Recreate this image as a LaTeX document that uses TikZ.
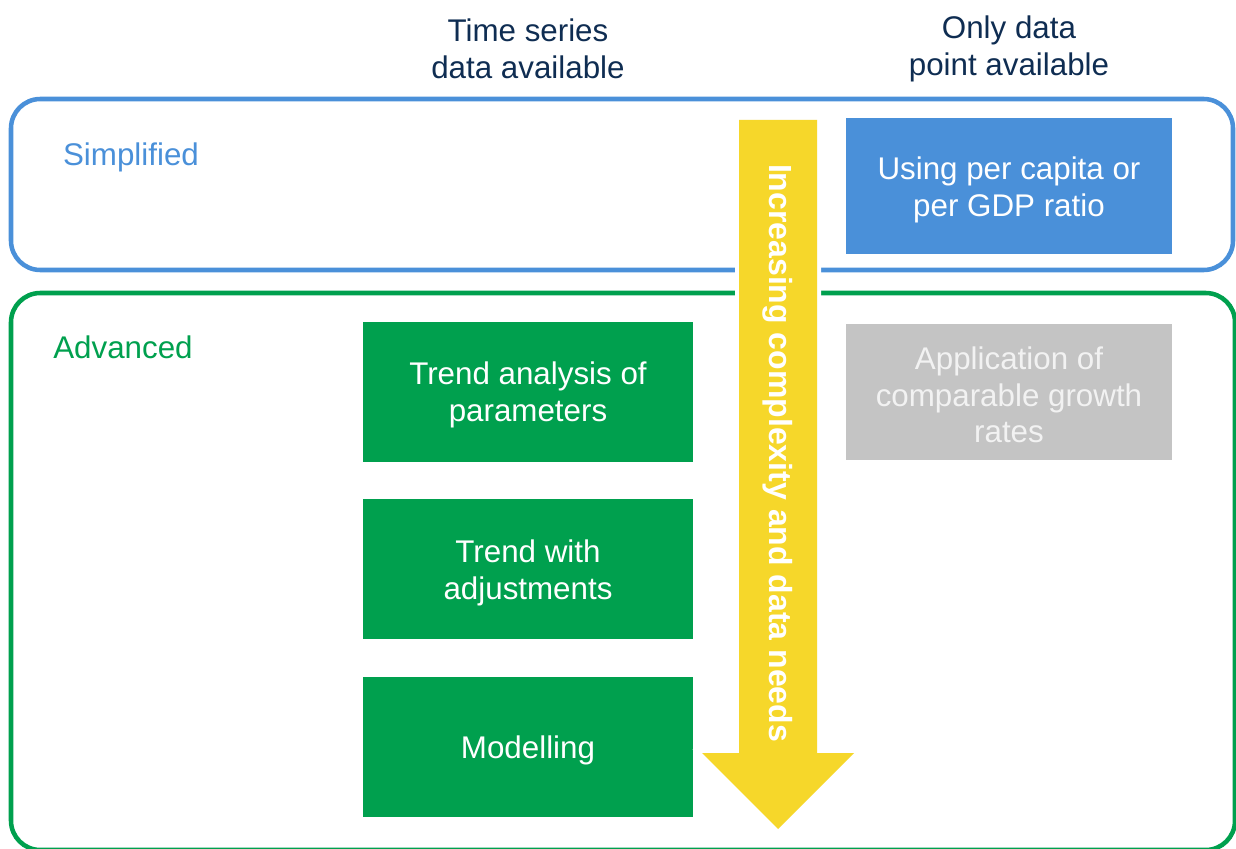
\documentclass[tikz,border=0pt]{standalone}
\usepackage{fontspec}
\setmainfont{Liberation Sans}
\usepackage{tikz}
\usetikzlibrary{calc}

\definecolor{framblue}{RGB}{74,144,217}
\definecolor{framgreen}{RGB}{0,160,78}
\definecolor{boxgray}{RGB}{196,196,196}
\definecolor{arrowyellow}{RGB}{246,215,42}
\definecolor{headnavy}{RGB}{15,45,82}

\begin{document}
\begin{tikzpicture}[x=0.75pt, y=-0.75pt,
	boxtext/.style={font=\fontsize{23.5}{27.5}\selectfont, align=center, text=white},
	headtext/.style={font=\fontsize{23.5}{27.5}\selectfont, align=center, text=headnavy},
	methodbox/.style={boxtext, minimum width=247.5pt, minimum height=105pt, inner sep=0pt}]
	\useasboundingbox (0,0) rectangle (1236,849);

	% frames
	\draw [framblue, line width=3.4pt, rounded corners=22pt] (11,99) rectangle (1233,270);
	\draw [framgreen, line width=3.4pt, rounded corners=22pt] (11,293) rectangle (1235,850);
	\node (simp) at (131,157) [headtext, text=framblue] {Simplified};
	\node (adv) at (123,347) [headtext, text=framgreen] {Advanced};

	% column heads
	\node (tsdata) at (528,49) [headtext] {Time series\\data available};
	\node (ptdata) at (1009,49) [headtext] {Only data\\point available};

	% methods
	\node (ratio) at (1009,186) [methodbox, fill=framblue, minimum width=244.5pt, minimum height=101.25pt] {};
	\node (ratiotxt) at (1009,190) [boxtext] {Using per capita or\\per GDP ratio};
	\node (growth) at (1009,392) [methodbox, fill=boxgray, minimum width=244.5pt, minimum height=102pt] {};
	\node (growthtxt) at (1009,395) [boxtext, text=white!95!black] {Application of\\comparable growth\\rates};
	\node (trend) at (528,392) [methodbox, fill=framgreen] {};
	\node (trendtxt) at (528,395) [boxtext] {Trend analysis of\\parameters};
	\node (adjust) at (528,569) [methodbox, fill=framgreen] {};
	\node (adjusttxt) at (528,573) [boxtext] {Trend with\\adjustments};
	\node (model) at (528,747) [methodbox, fill=framgreen] {};
	\node (modeltxt) at (528,750) [boxtext] {Modelling};

	% complexity arrow
	\coordinate (A0) at (739,120);
	\coordinate (A1) at (817,120);
	\coordinate (A2) at (817,753);
	\coordinate (A3) at (854,753);
	\coordinate (A4) at (778,829);
	\coordinate (A5) at (702,753);
	\coordinate (A6) at (739,753);
	\fill [arrowyellow, draw=white, line width=6pt] (A0) -- (A1) -- (A2) -- (A3) -- (A4) -- (A5) -- (A6) -- cycle;
	\fill [arrowyellow] (A0) -- (A1) -- (A2) -- (A3) -- (A4) -- (A5) -- (A6) -- cycle;
	\node (cplx) at (778,453) [rotate=-90, text=white, font=\fontsize{24}{28}\selectfont\bfseries] {Increasing complexity and data needs};

\end{tikzpicture}
\end{document}
